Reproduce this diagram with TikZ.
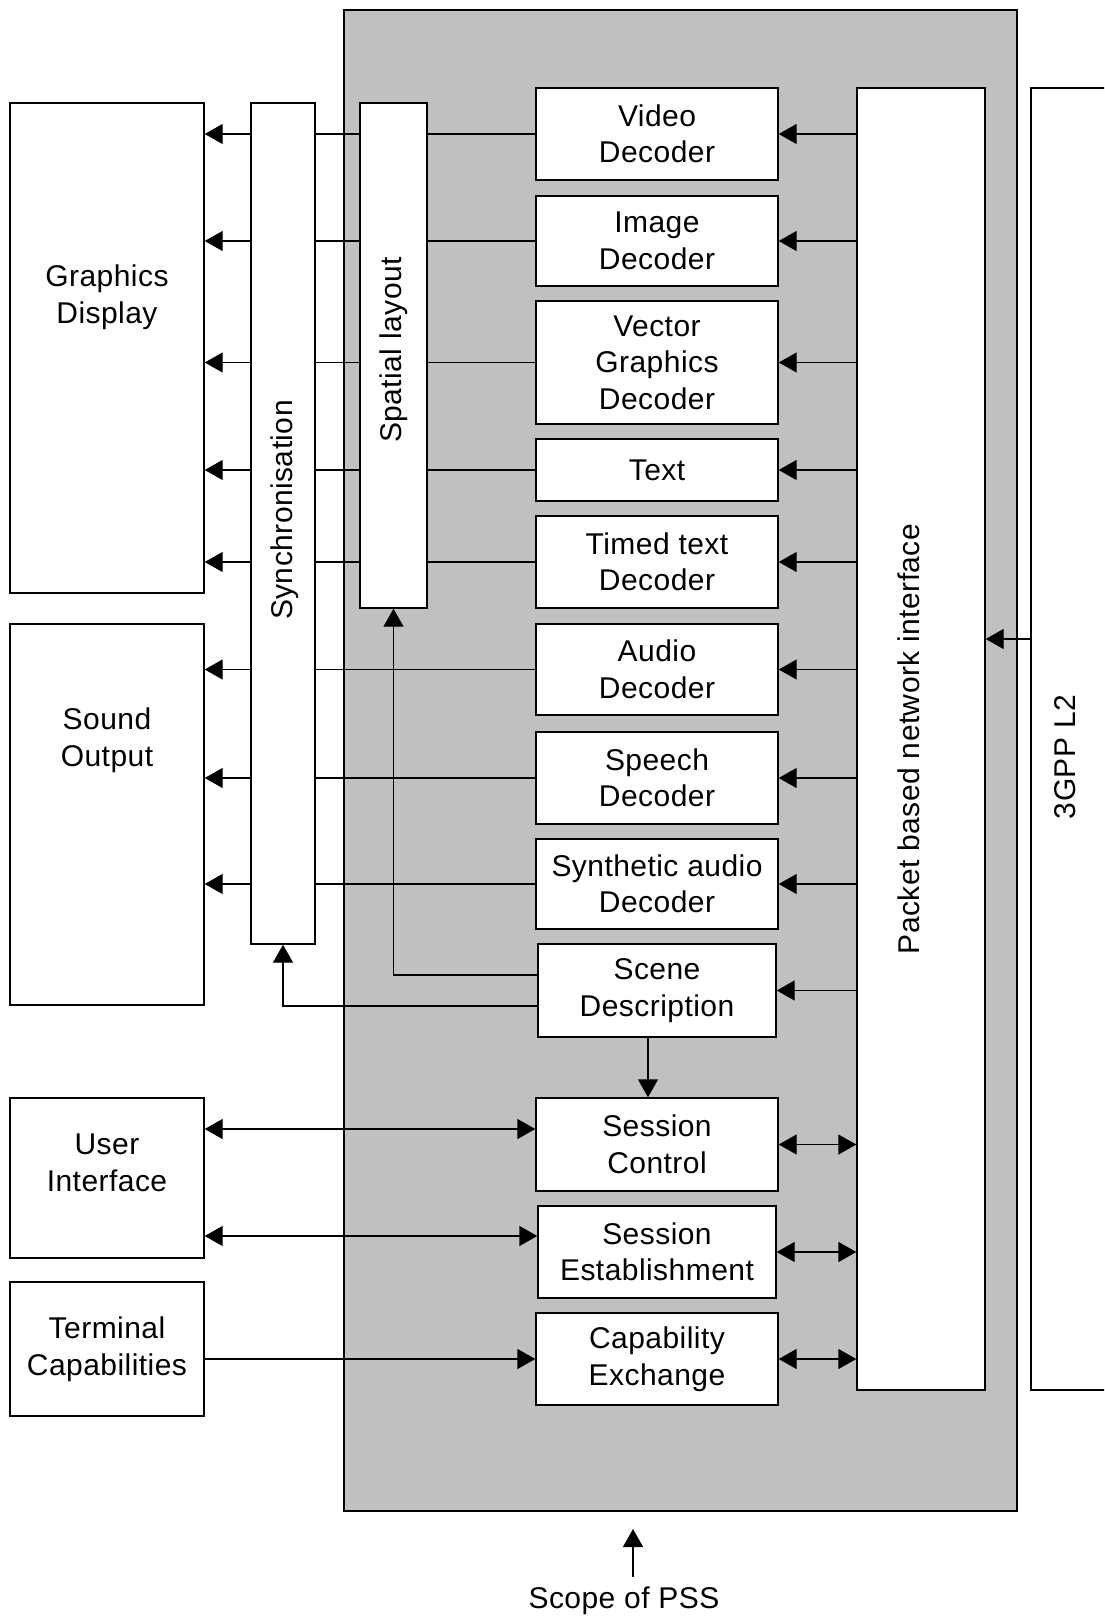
\documentclass[tikz,border=0pt]{standalone}
\usepackage{fontspec}
\setmainfont{Liberation Sans}[LetterSpace=1.5]
\usetikzlibrary{arrows.meta}
\pgfdeclarelayer{back}
\pgfdeclarelayer{wires}
\pgfsetlayers{back,wires,main}
\definecolor{pssgray}{RGB}{192,192,192}
\tikzset{
  blk/.style={draw, fill=white, line width=1.4pt, inner sep=0pt, align=center,
    font=\fontsize{30}{36.5}\selectfont},
  lbl/.style={inner sep=0pt, align=center, font=\fontsize{30}{36.5}\selectfont},
  wire/.style={line width=1.4pt},
  arr/.style={wire, -{Triangle[length=18pt,width=20pt]}},
  darr/.style={wire, {Triangle[length=18pt,width=20pt]}-{Triangle[length=18pt,width=20pt]}},
}

\begin{document}
\begin{tikzpicture}[x=1pt,y=-1pt]
		%%%%% START %%%%%
		\path[use as bounding box, clip] (0,0) rectangle (1104,1616);
		
		\begin{pgfonlayer}{back}
		\node[draw, fill=pssgray, line width=1.4pt, inner sep=0pt, minimum width=673, minimum height=1501] (pss) at (680.5,760.5) {};
		\end{pgfonlayer}
		
		% terminal side
		\node[blk, minimum width=194, minimum height=490] (gfx) at (107,348) {};
		\node[lbl] (gfxtxt) at (107,297) {Graphics\\Display};
		\node[blk, minimum width=194, minimum height=381] (snd) at (107,814.5) {};
		\node[lbl] (sndtxt) at (107,740) {Sound\\Output};
		\node[blk, minimum width=194, minimum height=160] (ui) at (107,1178) {};
		\node[lbl] (uitxt) at (107,1163) {User\\Interface};
		\node[blk, minimum width=194, minimum height=134] (tc) at (107,1349) {Terminal\\Capabilities};
		
		\node[blk, minimum width=64, minimum height=841] (sync) at (283,523.5) {};
		\node[lbl, rotate=90] (synctxt) at (285,510) {Synchronisation};
		\node[blk, minimum width=67, minimum height=505] (spat) at (393.5,355.5) {};
		\node[lbl, rotate=90] (spattxt) at (394,350) {Spatial layout};
		
		% decoders
		\node[blk, minimum width=242, minimum height=92] (video) at (657,134) {Video\\Decoder};
		\node[blk, minimum width=242, minimum height=90] (image) at (657,241) {Image\\Decoder};
		\node[blk, minimum width=242, minimum height=123] (vector) at (657,362.5) {Vector\\Graphics\\Decoder};
		\node[blk, minimum width=242, minimum height=62] (text) at (657,470) {Text};
		\node[blk, minimum width=242, minimum height=92] (timed) at (657,562) {Timed text\\Decoder};
		\node[blk, minimum width=242, minimum height=91] (audio) at (657,669.5) {Audio\\Decoder};
		\node[blk, minimum width=242, minimum height=92] (speech) at (657,778) {Speech\\Decoder};
		\node[blk, minimum width=242, minimum height=90] (synth) at (657,884) {Synthetic audio\\Decoder};
		\node[blk, minimum width=238, minimum height=93] (scene) at (657,990.5) {Scene\\Description};
		
		\node[blk, minimum width=242, minimum height=93] (sctrl) at (657,1144.5) {Session\\Control};
		\node[blk, minimum width=238, minimum height=92] (sest) at (657,1252) {Session\\Establishment};
		\node[blk, minimum width=242, minimum height=92] (capex) at (657,1359) {Capability\\Exchange};
		
		% network side
		\node[blk, minimum width=128, minimum height=1302] (net) at (921,739) {};
		\node[lbl, rotate=90] (nettxt) at (909,739) {Packet based network interface};
		\node[blk, minimum width=90, minimum height=1302] (l2) at (1076,739) {};
		\node[lbl, rotate=90] (l2txt) at (1065,757) {3GPP L2};
		
		\begin{pgfonlayer}{wires}
		\draw[arr] (video.west) -- (video.west -| gfx.east);
		\draw[arr] (image.west) -- (image.west -| gfx.east);
		\draw[arr] (vector.west) -- (vector.west -| gfx.east);
		\draw[arr] (text.west) -- (text.west -| gfx.east);
		\draw[arr] (timed.west) -- (timed.west -| gfx.east);
		\draw[arr] (audio.west) -- (audio.west -| snd.east);
		\draw[arr] (speech.west) -- (speech.west -| snd.east);
		\draw[arr] (synth.west) -- (synth.west -| snd.east);
		\draw[arr] ([yshift=15.5pt]scene.west) -| (spat.south);
		\draw[arr] ([yshift=-15.5pt]scene.west) -| (sync.south);
		\end{pgfonlayer}
		
		\draw[arr] (video.east -| net.west) -- (video.east);
		\draw[arr] (image.east -| net.west) -- (image.east);
		\draw[arr] (vector.east -| net.west) -- (vector.east);
		\draw[arr] (text.east -| net.west) -- (text.east);
		\draw[arr] (timed.east -| net.west) -- (timed.east);
		\draw[arr] (audio.east -| net.west) -- (audio.east);
		\draw[arr] (speech.east -| net.west) -- (speech.east);
		\draw[arr] (synth.east -| net.west) -- (synth.east);
		\draw[arr] (scene.east -| net.west) -- (scene.east);
		\draw[darr] (sctrl.east) -- (sctrl.east -| net.west);
		\draw[darr] (sest.east) -- (sest.east -| net.west);
		\draw[darr] (capex.east) -- (capex.east -| net.west);
		\draw[arr] ([yshift=100pt]l2.west) -- ([yshift=100pt]net.east);
		
		\draw[arr] ([xshift=-9pt]scene.south) -- ([xshift=-9pt]sctrl.north);
		\draw[darr] ([yshift=15.5pt]sctrl.west -| ui.east) -- ([yshift=15.5pt]sctrl.west);
		\draw[darr] ([yshift=16pt]sest.west -| ui.east) -- ([yshift=16pt]sest.west);
		\draw[arr] (capex.west -| tc.east) -- (capex.west);
		
		% scope
		\coordinate (scopetail) at (633,1577);
		\coordinate (scopetip) at (633,1529);
		\draw[arr] (scopetail) -- (scopetip);
		\node[lbl, anchor=base] (scope) at (624,1608) {Scope of PSS};
		%%%%% END %%%%%
	\end{tikzpicture}
\end{document}
